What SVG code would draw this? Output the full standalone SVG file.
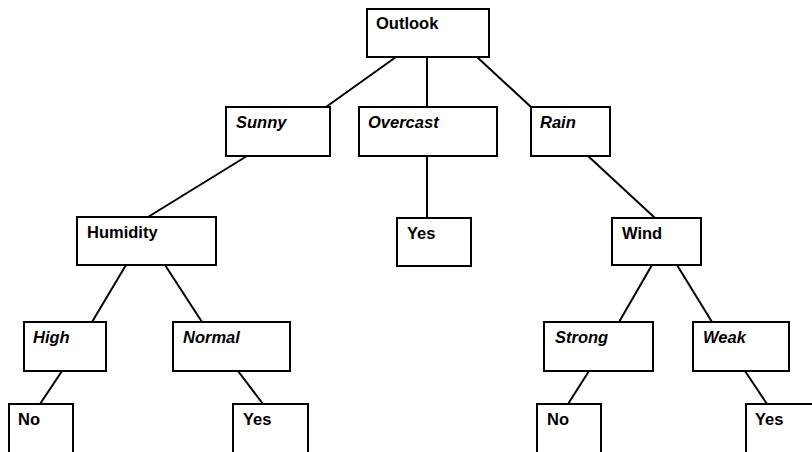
<svg xmlns="http://www.w3.org/2000/svg" width="812" height="452" viewBox="0 0 812 452">
<style>
.box{fill:#fff;stroke:#000;stroke-width:2}
.t{font-family:"Liberation Sans",Arial,sans-serif;font-size:16.5px;font-weight:bold;fill:#000}
.i{font-style:italic}
.c line{stroke:#000;stroke-width:2}
</style>
<rect width="812" height="452" fill="#fff"/>
<g class="c" id="connectors">
<line x1="396" y1="57" x2="326" y2="107"/>
<line x1="427" y1="57" x2="427" y2="107"/>
<line x1="477" y1="57" x2="531" y2="107"/>
<line x1="247" y1="156" x2="148" y2="217"/>
<line x1="427" y1="156" x2="427" y2="218"/>
<line x1="588" y1="156" x2="655" y2="218"/>
<line x1="126" y1="265" x2="92" y2="322"/>
<line x1="165" y1="265" x2="202" y2="322"/>
<line x1="652" y1="265" x2="619" y2="322"/>
<line x1="677" y1="265" x2="712" y2="322"/>
<line x1="62" y1="371" x2="40" y2="404"/>
<line x1="238" y1="371" x2="263" y2="404"/>
<line x1="589" y1="371" x2="568" y2="404"/>
<line x1="745" y1="371" x2="767" y2="404"/>
</g>
<g id="outlook"><rect class="box" x="367" y="9" width="122" height="48"/><text class="t" x="376" y="29">Outlook</text></g>
<g id="sunny"><rect class="box" x="226" y="107" width="104" height="49"/><text class="t i" x="236" y="127.5">Sunny</text></g>
<g id="overcast"><rect class="box" x="359" y="107" width="138" height="49"/><text class="t i" x="368" y="127.5">Overcast</text></g>
<g id="rain"><rect class="box" x="531" y="107" width="79" height="49"/><text class="t i" x="540" y="127.5">Rain</text></g>
<g id="humidity"><rect class="box" x="77" y="217" width="139" height="48"/><text class="t" x="87" y="238">Humidity</text></g>
<g id="yes-overcast"><rect class="box" x="397" y="218" width="74" height="48"/><text class="t" x="407" y="238.5">Yes</text></g>
<g id="wind"><rect class="box" x="612" y="218" width="89" height="47"/><text class="t" x="622" y="238.5">Wind</text></g>
<g id="high"><rect class="box" x="24" y="322" width="82" height="49"/><text class="t i" x="33" y="342.5">High</text></g>
<g id="normal"><rect class="box" x="173" y="322" width="117" height="49"/><text class="t i" x="183" y="342.5">Normal</text></g>
<g id="strong"><rect class="box" x="544" y="322" width="109" height="49"/><text class="t i" x="555" y="342.5">Strong</text></g>
<g id="weak"><rect class="box" x="693" y="322" width="96" height="49"/><text class="t i" x="703" y="342.5">Weak</text></g>
<g id="no-high"><rect class="box" x="9" y="404" width="64" height="60"/><text class="t" x="18" y="425">No</text></g>
<g id="yes-normal"><rect class="box" x="233" y="404" width="75" height="60"/><text class="t" x="243" y="425">Yes</text></g>
<g id="no-strong"><rect class="box" x="537" y="404" width="64" height="60"/><text class="t" x="547" y="425">No</text></g>
<g id="yes-weak"><rect class="box" x="746" y="404" width="80" height="60"/><text class="t" x="755" y="425">Yes</text></g>
</svg>
